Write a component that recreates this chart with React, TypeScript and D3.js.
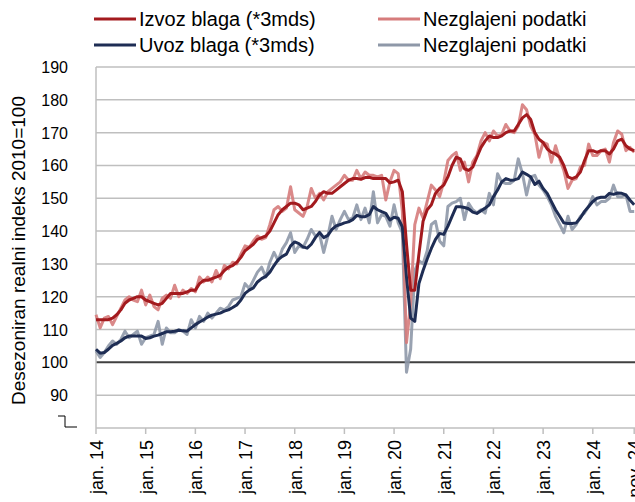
import React, { useEffect, useRef } from 'react';
import * as d3 from 'd3';

// monthly, jan. 2014 – nov. 2024
const izvozSmooth = [
  113, 113, 113, 113, 113.5, 114.5, 116, 118, 119, 119.5, 120, 120,
  119, 118.5, 118, 117.5, 118, 119.5, 121, 121, 121, 121, 121.5, 122,
  122, 124, 125, 125, 125.5, 126, 126.5, 128, 129, 129.5, 130.5, 132,
  134, 135, 136, 137.5, 138, 138.5, 140, 142.5, 145, 146.5, 147.5, 148.5,
  148.5, 148, 146.5, 147, 147.5, 149, 151, 152, 151.5, 151.5, 152.5, 153.5,
  154.5, 155.5, 156, 156, 155.8, 156.3, 156.4, 156, 156, 156, 156, 154.7,
  155, 155.5, 152, 136, 122, 122, 133, 143, 146.5, 148, 151.5, 153,
  154, 156.5, 160, 162.5, 162, 159, 158.5, 159.5, 162.5, 165.5, 167.5, 169,
  168.5, 168.5, 169, 170, 170.5, 170.5, 172.5, 174.5, 175.5, 174, 170, 168,
  167, 165, 164, 163.5, 162.5, 160, 156.5, 156, 156.5, 158, 161.5, 164.5,
  164.5, 164, 164.5, 164.5, 163.5, 165, 167.5, 168, 166, 165, 164.5
];
const izvozRaw = [
  114.5, 110.5, 113.5, 114, 111.5, 114, 116.5, 119, 120, 119, 118.5, 122,
  117.5, 120.5, 117, 116, 119.5, 120.5, 119.5, 123.5, 120, 122, 121, 122.5,
  121.5, 126, 124.5, 126, 124.5, 128, 125.5, 129.5, 128.5, 130.5, 130, 133,
  135.5, 135, 137, 138.5, 137.5, 138, 142, 146.5, 147.5, 146, 147, 153.5,
  146.5, 145.5, 144.5, 147.5, 153, 150, 151.5, 149.5, 152, 153, 154, 155,
  157, 155.5, 155.5, 158.5, 156, 158, 157, 157, 156.5, 157, 149.5, 155,
  158.5, 157.5, 146, 106, 118, 142, 147, 144, 149, 154, 152.5, 150.5,
  155, 161.5, 163, 164, 158.5, 161, 155, 161, 163, 167.5, 170, 167.5,
  170.5, 169, 169.5, 172.5, 170.5, 170, 172, 178.5, 177, 172, 169.5, 162.5,
  167, 166.5, 161, 166, 162, 158.5, 153, 155.5, 156, 159.5, 160, 166.5,
  163, 163, 164.5, 165, 161, 167, 170.5, 169.5, 164.5, 165.5, 164
];
const uvozSmooth = [
  104, 102.8, 103, 104, 105.2, 105.8, 106.5, 107.5, 108, 108, 108, 108,
  107.3, 107.5, 108, 108.3, 108.8, 109.3, 109.3, 109.5, 109.8, 109.6, 109.5, 110.5,
  111.5, 112.3, 113, 113.8, 114.4, 114.7, 115, 115.6, 116, 116.7, 117.5, 119,
  121, 122, 122.7, 124.5, 125.5, 126.2, 127.5, 129.5, 131.3, 132.3, 133, 135.5,
  136.7, 136.2, 135.2, 134.8, 136, 138, 139.6, 138, 138.7, 140.5, 141.6, 142,
  142.5, 142.8, 143.5, 144.8, 144.4, 144.4, 145, 147.5, 146.5, 145.9, 145.4, 143.4,
  144.2, 143.9, 141.3, 126, 113.5, 112.5, 124, 128, 131.5, 134.7, 137.5, 139.3,
  139, 141.5, 144.5, 147.4, 147.4, 147.2, 146.8, 145.8, 145.4, 146.2, 147, 148,
  150.5, 152.5, 155, 156, 155.5, 155.6, 156, 158, 157.3, 156.5, 154.2, 155.2,
  153, 151.5, 149, 146.5, 144.5, 142.5, 142.3, 142.3, 142.5, 144, 146, 147.5,
  149, 150, 150.3, 150.3, 151.5, 151.2, 151.6, 151.5, 151, 149.4, 148
];
const uvozRaw = [
  103.5, 101.5, 103, 105, 106.5, 105.5, 107, 109.5, 107.5, 108.5, 109.5, 105.5,
  107.5, 108, 108.5, 112.5, 105.5, 110.5, 109, 109, 110, 109.5, 108.5, 113,
  110.5, 114, 112.5, 115, 113.5, 115, 116.5, 116, 117, 119, 119.5, 120,
  124, 122.5, 125, 127.5, 129, 126, 130.5, 133.5, 131, 134.5, 136.5, 139.5,
  133.5, 135.5, 135, 137.5, 140.5, 138.5, 139, 133.5, 138.5, 144.5, 140.5, 143.5,
  146, 143.5, 144, 148, 143.5, 147, 142.5, 152, 142.5, 145, 144.5, 141.5,
  148, 142.5, 139.5, 97, 104, 128, 131, 130, 134, 142, 143, 137,
  135.5, 147.5, 148.5, 149, 150, 143.5, 148.5, 146.5, 145.5, 146.5, 145.5, 151.5,
  148, 157.5, 155, 154.5, 154.5, 155.5, 162, 157.5, 151, 156.5, 157, 154,
  152.5, 150.5, 148, 144.5, 142, 139.5, 144.5, 140.5, 142, 144.5, 145.5, 147.5,
  150.5, 148, 149, 149, 150, 154, 150.5, 150.5, 151, 146, 146
];
const yTicks = [90, 100, 110, 120, 130, 140, 150, 160, 170, 180, 190];
const xTickIdx = [0, 12, 24, 36, 48, 60, 72, 84, 96, 108, 120, 130];
const xTickLabels = ['jan. 14', 'jan. 15', 'jan. 16', 'jan. 17', 'jan. 18', 'jan. 19',
  'jan. 20', 'jan. 21', 'jan. 22', 'jan. 23', 'jan. 24', 'nov. 24'];
const legendItems = [
  { label: 'Izvoz blaga (*3mds)', color: '#A31A1E' },
  { label: 'Nezglajeni podatki', color: '#D67C7C' },
  { label: 'Uvoz blaga (*3mds)', color: '#1E2D54' },
  { label: 'Nezglajeni podatki', color: '#8E98A8' }
];

const FONT = '"Liberation Sans", Arial, sans-serif';

export default function App() {
  const ref = useRef<SVGSVGElement>(null);

  useEffect(() => {
    const svg = d3.select(ref.current);
    svg.selectAll('*').remove();

    const x = d3.scaleLinear().domain([0, 130]).range([96, 634.2]);
    const y = d3.scaleLinear().domain([80, 190]).range([428, 67]);

    // gridlines
    svg.append('g')
      .selectAll('line')
      .data(yTicks)
      .enter().append('line')
      .attr('x1', 96).attr('x2', 635)
      .attr('y1', (d) => y(d)).attr('y2', (d) => y(d))
      .attr('stroke', (d) => (d === 100 ? '#404040' : '#BFBFBF'))
      .attr('stroke-width', (d) => (d === 100 ? 2 : 1.5));

    // y axis
    svg.append('line')
      .attr('x1', 96).attr('x2', 96).attr('y1', y(190)).attr('y2', y(80))
      .attr('stroke', '#BFBFBF').attr('stroke-width', 1.5);

    svg.append('g')
      .selectAll('text')
      .data(yTicks)
      .enter().append('text')
      .attr('x', 68).attr('y', (d) => y(d) + 6)
      .attr('text-anchor', 'end')
      .style('font-family', FONT).style('font-size', '16px').attr('fill', '#000')
      .text((d) => d);

    // axis break mark
    const yb = y(80);
    svg.append('path')
      .attr('d', `M58,${yb - 12} H65 V${yb - 1} H77`)
      .attr('fill', 'none').attr('stroke', '#000').attr('stroke-width', 1);

    svg.append('text')
      .attr('transform', `translate(25,${(y(190) + y(80)) / 2 + 3}) rotate(-90)`)
      .attr('text-anchor', 'middle')
      .style('font-family', FONT).style('font-size', '19px').attr('fill', '#000')
      .text('Desezoniran realni indeks 2010=100');

    // x axis
    svg.append('line')
      .attr('x1', 96).attr('x2', 635).attr('y1', yb).attr('y2', yb)
      .attr('stroke', '#BFBFBF').attr('stroke-width', 1.5);

    const xt = svg.append('g');
    xTickIdx.forEach((i, k) => {
      xt.append('line')
        .attr('x1', x(i)).attr('x2', x(i)).attr('y1', yb).attr('y2', yb + 6)
        .attr('stroke', '#BFBFBF').attr('stroke-width', 1.5);
      xt.append('text')
        .attr('transform', `translate(${x(i) + 7},440) rotate(-90)`)
        .attr('text-anchor', 'end')
        .style('font-family', FONT).style('font-size', '18px').attr('fill', '#000')
        .text(xTickLabels[k]);
    });

    // lines
    const line = d3.line<number>().x((d, i) => x(i)).y((d) => y(d));
    const series = [
      { data: uvozRaw, color: legendItems[3].color, op: 0.9 },
      { data: izvozRaw, color: legendItems[1].color, op: 0.9 },
      { data: uvozSmooth, color: legendItems[2].color, op: 1 },
      { data: izvozSmooth, color: legendItems[0].color, op: 1 }
    ];
    series.forEach((s) => {
      svg.append('path')
        .datum(s.data)
        .attr('d', line)
        .attr('fill', 'none')
        .attr('stroke', s.color)
        .attr('stroke-opacity', s.op)
        .attr('stroke-width', 3)
        .attr('stroke-linejoin', 'round');
    });

    // legend
    const lg = svg.append('g');
    legendItems.forEach((item, i) => {
      const col = i % 2;
      const row = Math.floor(i / 2);
      const lx = col === 0 ? 94 : 378;
      const ly = 19 + row * 26;
      lg.append('line')
        .attr('x1', lx).attr('x2', lx + 42).attr('y1', ly).attr('y2', ly)
        .attr('stroke', item.color).attr('stroke-width', 3);
      lg.append('text')
        .attr('x', lx + 45).attr('y', ly + 7)
        .style('font-family', FONT).style('font-size', '20px').attr('fill', '#000')
        .text(item.label);
    });
  }, []);

  return (
    <svg ref={ref} width={635} height={502}
      style={{ position: 'absolute', left: 0, top: 0, background: '#fff' }} />
  );
}
